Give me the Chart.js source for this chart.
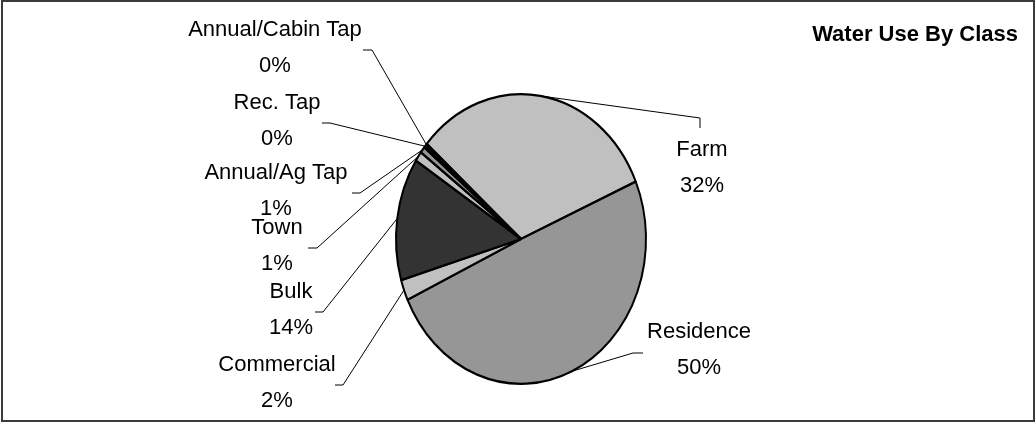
<!DOCTYPE html>
<html>
<head>
<meta charset="utf-8">
<title>Water Use By Class</title>
<script src="https://cdn.jsdelivr.net/npm/chart.js@4.4.1/dist/chart.umd.min.js"></script>
<style>
  html, body { margin: 0; padding: 0; background: #ffffff; }
  #wrap { width: 1036px; height: 425px; }
</style>
</head>
<body>
<div id="wrap"><canvas id="useChart" width="1036" height="425"></canvas></div>
<script>
// water use share per class (percent of total)
var classes = ["Farm", "Residence", "Commercial", "Bulk", "Town", "Annual/Ag Tap", "Rec. Tap", "Annual/Cabin Tap"];
var usage = [32.1, 49.6, 2.3, 13.7, 1.1, 0.7, 0.3, 0.2];
var sliceColors = ["#c0c0c0", "#969696", "#c0c0c0", "#333333", "#c0c0c0", "#969696", "#333333", "#c0c0c0"];

// where each data label sits: text centre of the first line, leader elbow and tick end
var labelSpots = [
  { x: 702, y: 150, ex: 700, ey: 118, tx: 700, ty: 128 },
  { x: 699, y: 332, ex: 633, ey: 353, tx: 643, ty: 353 },
  { x: 277, y: 365, ex: 343, ey: 385, tx: 335, ty: 385 },
  { x: 291, y: 292, ex: 323, ey: 312, tx: 315, ty: 312 },
  { x: 277, y: 228, ex: 317, ey: 248, tx: 308, ty: 248 },
  { x: 276, y: 173, ex: 360, ey: 193, tx: 352, ty: 193 },
  { x: 277, y: 103, ex: 330, ey: 123, tx: 322, ty: 123 },
  { x: 275, y: 30,  ex: 372, ey: 50,  tx: 363, ty: 50 }
];

var stretchY = 146 / 126;   // pie is drawn as a slightly tall ellipse
var lineGap = 36;

// outer frame of the chart
var framePlugin = {
  id: 'frame',
  beforeDraw: function (chart) {
    var ctx = chart.ctx;
    ctx.save();
    ctx.fillStyle = '#ffffff';
    ctx.fillRect(0, 0, chart.width, chart.height);
    ctx.strokeStyle = '#3a3a3a';
    ctx.lineWidth = 2;
    ctx.strokeRect(2, 1, 1032, 420);
    ctx.restore();
  }
};

// squash the round pie into an ellipse around its centre
var ellipsePlugin = {
  id: 'ellipse',
  beforeDatasetsDraw: function (chart) {
    var arc = chart.getDatasetMeta(0).data[0];
    var ctx = chart.ctx;
    ctx.save();
    ctx.translate(arc.x, arc.y);
    ctx.scale(1, stretchY);
    ctx.translate(-arc.x, -arc.y);
  },
  afterDatasetsDraw: function (chart) {
    chart.ctx.restore();
  }
};

// category name + percent with a leader line to the slice edge
var labelPlugin = {
  id: 'sliceLabels',
  afterDraw: function (chart) {
    var ctx = chart.ctx;
    var meta = chart.getDatasetMeta(0);
    var total = usage.reduce(function (a, b) { return a + b; }, 0);

    ctx.save();
    meta.data.forEach(function (arc, i) {
      var mid = (arc.startAngle + arc.endAngle) / 2;
      var px = arc.x + Math.cos(mid) * arc.outerRadius;
      var py = arc.y + Math.sin(mid) * arc.outerRadius * stretchY;
      var spot = labelSpots[i];

      ctx.strokeStyle = '#000000';
      ctx.lineWidth = 1;
      ctx.beginPath();
      ctx.moveTo(px, py);
      ctx.lineTo(spot.ex, spot.ey);
      ctx.lineTo(spot.tx, spot.ty);
      ctx.stroke();

      ctx.fillStyle = '#000000';
      ctx.font = '22px "Liberation Sans", Arial, sans-serif';
      ctx.textAlign = 'center';
      ctx.textBaseline = 'middle';
      ctx.fillText(classes[i], spot.x, spot.y);
      ctx.fillText(Math.round(usage[i] / total * 100) + '%', spot.x, spot.y + lineGap);
    });

    ctx.font = 'bold 22px "Liberation Sans", Arial, sans-serif';
    ctx.textAlign = 'right';
    ctx.textBaseline = 'alphabetic';
    ctx.fillText('Water Use By Class', 1018, 41);
    ctx.restore();
  }
};

var ctx = document.getElementById("useChart");
var useChart = new Chart(ctx, {
  type: 'pie',
  data: {
    labels: classes,
    datasets: [
      {
        data: usage,
        backgroundColor: sliceColors,
        borderColor: '#000000',
        borderWidth: 2
      }
    ]
  },
  options: {
    responsive: false,
    animation: false,
    rotation: -48.9,
    layout: {
      padding: { left: 395, right: 389, top: 113, bottom: 60 }
    },
    plugins: {
      legend: { display: false },
      title: { display: false },
      tooltip: { enabled: false }
    }
  },
  plugins: [framePlugin, ellipsePlugin, labelPlugin]
});
</script>
</body>
</html>
